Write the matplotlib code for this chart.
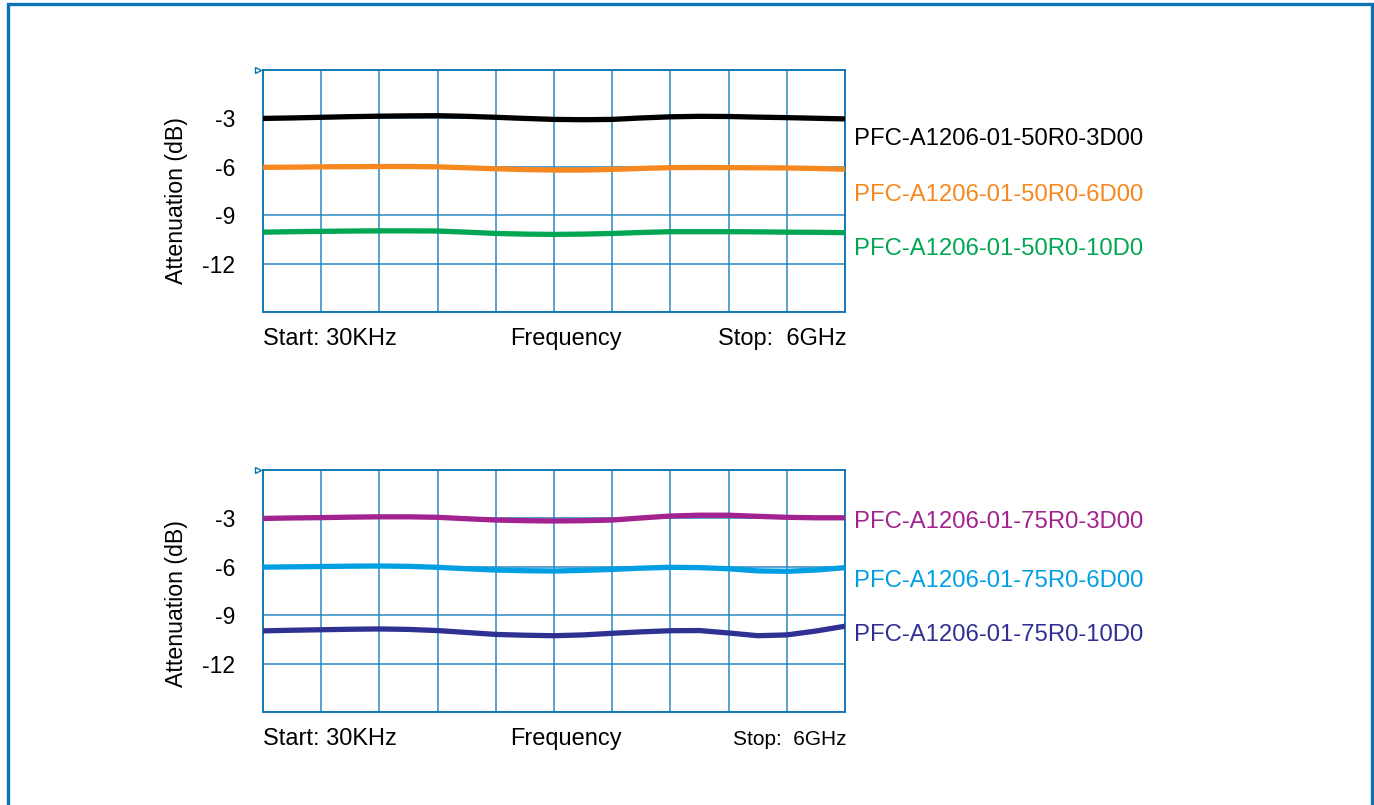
import matplotlib.pyplot as plt
from matplotlib.patches import Rectangle

plt.rcParams['font.family'] = ['Liberation Sans', 'DejaVu Sans']

# grid divisions across the span 30 kHz .. 6 GHz (10 divisions)
divs = [0, 0.5, 1, 1.5, 2, 2.5, 3, 3.5, 4, 4.5, 5, 5.5, 6, 6.5, 7, 7.5, 8, 8.5, 9, 9.5, 10]

# 50 ohm parts (dB)
att_50_3 = [-3.0, -2.97, -2.93, -2.89, -2.86, -2.84, -2.83, -2.87, -2.93, -3.0, -3.06,
            -3.08, -3.06, -2.97, -2.9, -2.87, -2.88, -2.92, -2.95, -2.99, -3.03]
att_50_6 = [-6.03, -6.02, -6.0, -5.99, -5.98, -5.98, -6.0, -6.06, -6.12, -6.17, -6.2,
            -6.2, -6.16, -6.1, -6.05, -6.04, -6.05, -6.06, -6.07, -6.1, -6.15]
att_50_10 = [-10.05, -10.02, -10.0, -9.98, -9.97, -9.97, -9.98, -10.05, -10.13, -10.17, -10.19,
             -10.17, -10.13, -10.07, -10.02, -10.02, -10.02, -10.03, -10.05, -10.06, -10.08]

# 75 ohm parts (dB)
att_75_3 = [-3.0, -2.97, -2.95, -2.92, -2.9, -2.9, -2.93, -3.02, -3.1, -3.14, -3.16,
            -3.14, -3.1, -2.97, -2.85, -2.8, -2.8, -2.87, -2.93, -2.96, -2.96]
att_75_6 = [-6.02, -6.0, -5.98, -5.96, -5.95, -5.97, -6.03, -6.12, -6.2, -6.24, -6.26,
            -6.22, -6.16, -6.08, -6.03, -6.05, -6.12, -6.25, -6.28, -6.2, -6.05]
att_75_10 = [-9.97, -9.93, -9.9, -9.87, -9.85, -9.88, -9.95, -10.07, -10.19, -10.24, -10.27,
             -10.22, -10.12, -10.03, -9.96, -9.95, -10.1, -10.27, -10.22, -9.98, -9.68]

names_50 = ["PFC-A1206-01-50R0-3D00", "PFC-A1206-01-50R0-6D00", "PFC-A1206-01-50R0-10D0"]
names_75 = ["PFC-A1206-01-75R0-3D00", "PFC-A1206-01-75R0-6D00", "PFC-A1206-01-75R0-10D0"]
colors_50 = ["#000000", "#F7881F", "#00A651"]
colors_75 = ["#A2238F", "#009FE3", "#2E3192"]
label_y_50 = [-4.25, -7.75, -11.1]
label_y_75 = [-3.25, -6.85, -10.2]

grid_blue = "#2A87C4"
frame_blue = "#0B72B5"


def setup_axes(ax, stop_size, ylab_pos):
    ax.set_xlim(0, 10)
    ax.set_ylim(-15, 0)
    ax.set_xticks(range(11))
    ax.set_yticks([0, -3, -6, -9, -12, -15])
    ax.set_yticklabels(["", "-3", "-6", "-9", "-12", ""])
    ax.set_xticklabels([])
    ax.tick_params(length=0, labelsize=16.5, pad=20)
    ax.grid(True, color=grid_blue, lw=1.1)
    for s in ax.spines.values():
        s.set_color(frame_blue)
        s.set_linewidth(1.3)
    ax.set_ylabel("Attenuation (dB)", fontsize=16.7)
    ax.yaxis.set_label_coords(-0.128, ylab_pos)
    ax.text(0.0, -0.065, "Start: 30KHz", transform=ax.transAxes, fontsize=17,
            ha="left", va="top")
    ax.text(0.52, -0.065, "Frequency", transform=ax.transAxes, fontsize=17,
            ha="center", va="top")
    ax.text(1.003, -0.065 if stop_size > 16 else -0.075, "Stop:  6GHz",
            transform=ax.transAxes, fontsize=stop_size, ha="right", va="top")
    ax.plot([-0.08], [0], marker=">", ms=5, mfc="white", mec=frame_blue, clip_on=False)


fig = plt.figure(figsize=(13.74, 8.05), dpi=100)
ax1 = fig.add_axes([0.1914, 0.6124, 0.4236, 0.3006])
ax2 = fig.add_axes([0.1914, 0.1155, 0.4236, 0.3006])

for ax, series, names, colors, ly, stop_size, ylab_pos in [
        (ax1, [att_50_3, att_50_6, att_50_10], names_50, colors_50, label_y_50, 17, 0.46),
        (ax2, [att_75_3, att_75_6, att_75_10], names_75, colors_75, label_y_75, 15, 0.45)]:
    setup_axes(ax, stop_size, ylab_pos)
    for ys, name, c, y in zip(series, names, colors, ly):
        ax.plot(divs, ys, color=c, lw=3.8, solid_capstyle="butt", zorder=3)
        ax.text(10.15, y, name, color=c, fontsize=17.2, ha="left", va="center")

fig.add_artist(Rectangle((0.006, -0.05), 0.9925, 1.045, fill=False,
                         lw=2.4, edgecolor=frame_blue, transform=fig.transFigure))

fig.savefig("out.png", dpi=100)
